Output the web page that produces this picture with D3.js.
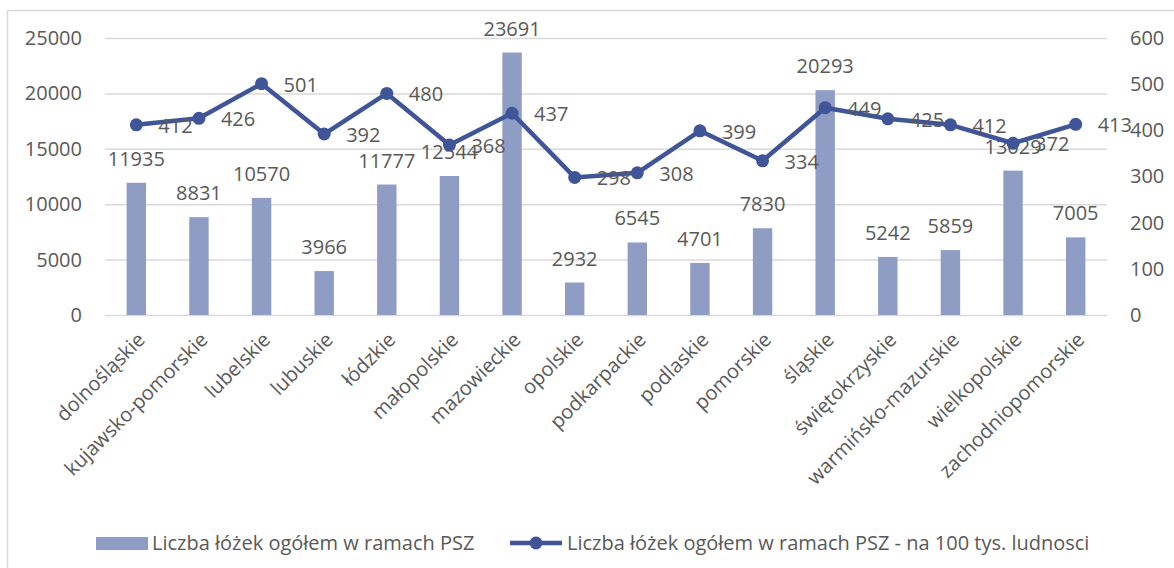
<!DOCTYPE html>
<html>
<head>
<meta charset="utf-8">
<script src="https://cdn.jsdelivr.net/npm/d3@7"></script>
<style>
  body { margin: 0; background: #fff; }
  text { font-family: "Open Sans", sans-serif; fill: #595959; }
</style>
</head>
<body>
<div id="chart"></div>
<script>
// Województwa
var regions = ["dolnośląskie", "kujawsko-pomorskie", "lubelskie", "lubuskie", "łódzkie",
  "małopolskie", "mazowieckie", "opolskie", "podkarpackie", "podlaskie", "pomorskie",
  "śląskie", "świętokrzyskie", "warmińsko-mazurskie", "wielkopolskie", "zachodniopomorskie"];

// Liczba łóżek ogółem w ramach PSZ
var beds = [11935, 8831, 10570, 3966, 11777, 12544, 23691, 2932, 6545, 4701, 7830, 20293, 5242, 5859, 13029, 7005];

// na 100 tys. ludnosci
var bedsPer100k = [412, 426, 501, 392, 480, 368, 437, 298, 308, 399, 334, 449, 425, 412, 372, 413];

var leftTicks = [0, 5000, 10000, 15000, 20000, 25000];
var rightTicks = [0, 100, 200, 300, 400, 500, 600];

var seriesNames = ["Liczba łóżek ogółem w ramach PSZ",
  "Liczba łóżek ogółem w ramach PSZ - na 100 tys. ludnosci"];

var width = 1174, height = 568;
var plotLeft = 105, plotRight = 1107, plotTop = 38, plotBottom = 315;
var barColor = "#8f9dc4", lineColor = "#3f5597", gridColor = "#d9d9d9";
var fontSize = 20;

var svg = d3.select("#chart").append("svg")
  .attr("width", width)
  .attr("height", height);

// chart frame
svg.append("rect")
  .attr("x", 7.5).attr("y", 10.5)
  .attr("width", width + 20).attr("height", height + 20)
  .attr("fill", "none")
  .attr("stroke", gridColor)
  .attr("stroke-width", 1.5);

var x = d3.scaleBand()
  .domain(regions)
  .range([plotLeft, plotRight]);

var yLeft = d3.scaleLinear().domain([0, 25000]).range([plotBottom, plotTop]);
var yRight = d3.scaleLinear().domain([0, 600]).range([plotBottom, plotTop]);

// left axis + gridlines
var gLeft = svg.append("g")
  .attr("transform", "translate(" + plotLeft + ",0)")
  .call(d3.axisLeft(yLeft).tickValues(leftTicks).tickFormat(d3.format("d"))
    .tickSize(-(plotRight - plotLeft)).tickPadding(23));
gLeft.select(".domain").remove();
gLeft.selectAll(".tick line").attr("stroke", gridColor).attr("stroke-width", 1.5);
gLeft.selectAll(".tick text").style("font-size", fontSize + "px").attr("fill", "#595959");

// right axis
var gRight = svg.append("g")
  .attr("transform", "translate(" + plotRight + ",0)")
  .call(d3.axisRight(yRight).tickValues(rightTicks).tickFormat(d3.format("d"))
    .tickSize(0).tickPadding(23));
gRight.select(".domain").remove();
gRight.selectAll(".tick text").style("font-size", fontSize + "px").attr("fill", "#595959");

// x axis labels
var gX = svg.append("g")
  .attr("transform", "translate(0," + plotBottom + ")")
  .call(d3.axisBottom(x).tickSize(0).tickPadding(0));
gX.select(".domain").remove();
gX.selectAll(".tick text")
  .style("font-size", fontSize + "px")
  .attr("fill", "#595959")
  .attr("text-anchor", "end")
  .attr("y", 0).attr("dy", 0)
  .attr("transform", "translate(10,26) rotate(-45)");

// bars
var barW = x.bandwidth() * 0.31;
svg.append("g").selectAll("rect")
  .data(beds)
  .enter().append("rect")
  .attr("x", function(d, i) { return x(regions[i]) + x.bandwidth() / 2 - barW / 2; })
  .attr("y", function(d) { return yLeft(d); })
  .attr("width", barW)
  .attr("height", function(d) { return plotBottom - yLeft(d); })
  .attr("fill", barColor);

// bar labels
svg.append("g").selectAll("text")
  .data(beds)
  .enter().append("text")
  .attr("x", function(d, i) { return x(regions[i]) + x.bandwidth() / 2; })
  .attr("y", function(d) { return yLeft(d) - 17; })
  .attr("text-anchor", "middle")
  .style("font-size", fontSize + "px")
  .text(function(d) { return d; });

// line
var line = d3.line()
  .x(function(d, i) { return x(regions[i]) + x.bandwidth() / 2; })
  .y(function(d) { return yRight(d); });

svg.append("path")
  .datum(bedsPer100k)
  .attr("d", line)
  .attr("fill", "none")
  .attr("stroke", lineColor)
  .attr("stroke-width", 4.5)
  .attr("stroke-linejoin", "round");

svg.append("g").selectAll("circle")
  .data(bedsPer100k)
  .enter().append("circle")
  .attr("cx", function(d, i) { return x(regions[i]) + x.bandwidth() / 2; })
  .attr("cy", function(d) { return yRight(d); })
  .attr("r", 6.5)
  .attr("fill", lineColor);

// line labels (right of point)
svg.append("g").selectAll("text")
  .data(bedsPer100k)
  .enter().append("text")
  .attr("x", function(d, i) { return x(regions[i]) + x.bandwidth() / 2 + 22; })
  .attr("y", function(d) { return yRight(d) + 8; })
  .style("font-size", fontSize + "px")
  .text(function(d) { return d; });

// legend
var legend = svg.append("g");
legend.append("rect")
  .attr("x", 96).attr("y", 537)
  .attr("width", 52).attr("height", 13)
  .attr("fill", barColor);
legend.append("text")
  .attr("x", 152).attr("y", 550)
  .style("font-size", fontSize + "px")
  .text(seriesNames[0]);
legend.append("line")
  .attr("x1", 510).attr("x2", 562)
  .attr("y1", 543).attr("y2", 543)
  .attr("stroke", lineColor).attr("stroke-width", 4.5);
legend.append("circle")
  .attr("cx", 536).attr("cy", 543).attr("r", 6.5)
  .attr("fill", lineColor);
legend.append("text")
  .attr("x", 567).attr("y", 550)
  .style("font-size", fontSize + "px")
  .text(seriesNames[1]);
</script>
</body>
</html>
